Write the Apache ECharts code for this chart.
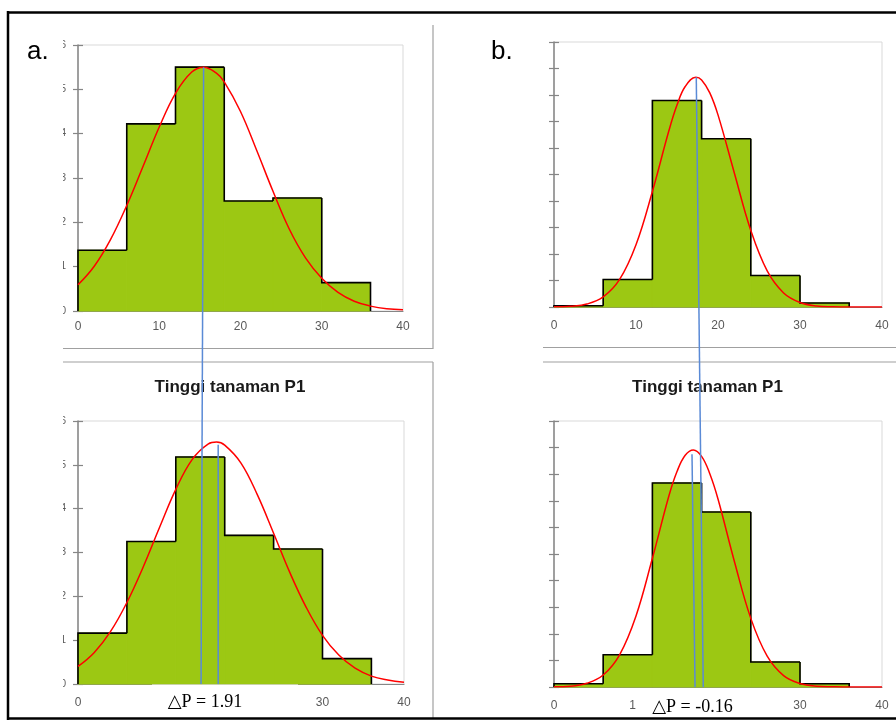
<!DOCTYPE html>
<html>
<head>
<meta charset="utf-8">
<script src="https://cdn.jsdelivr.net/npm/echarts@6/dist/echarts.min.js"></script>
<style>html,body{margin:0;padding:0;background:#fff}#c{width:896px;height:720px}</style>
</head>
<body>
<div id="c"></div>
<script>
// ---- data ----
const binEdges = [0, 6, 12, 18, 24, 30, 36];
const aTopCounts = [1.37, 4.22, 5.50, 2.48, 2.55, 0.64];
const aBotCounts = [1.16, 3.25, 5.18, 3.39, 3.08, 0.58];
const bTopCounts = [0.05, 1.04, 7.79, 6.35, 1.19, 0.15];
const bBotCounts = [0.12, 1.21, 7.67, 6.58, 0.94, 0.12];

const aTopCurveX = [0, 2, 4, 6, 8, 10, 12, 14, 15.5, 17, 18, 20, 22, 24, 26, 28, 30, 32, 34, 36, 38, 40];
const aTopCurveY = [0.59, 1.01, 1.61, 2.38, 3.26, 4.15, 4.91, 5.39, 5.50, 5.37, 5.17, 4.50, 3.62, 2.70, 1.85, 1.20, 0.74, 0.42, 0.22, 0.11, 0.05, 0.03];
const aBotCurveX = [0, 2, 4, 6, 8, 10, 12, 14, 16, 17, 18, 20, 22, 24, 26, 28, 30, 32, 34, 36, 38, 40];
const aBotCurveY = [0.40, 0.72, 1.20, 1.86, 2.67, 3.57, 4.44, 5.12, 5.48, 5.52, 5.45, 5.04, 4.32, 3.44, 2.54, 1.75, 1.11, 0.66, 0.36, 0.18, 0.09, 0.04];
const bTopCurveX = [0, 2, 4, 6, 8, 10, 12, 14, 15, 16, 17.3, 18, 19, 20, 22, 24, 26, 28, 30, 32, 34, 36, 38, 40];
const bTopCurveY = [0.01, 0.03, 0.11, 0.38, 1.04, 2.35, 4.36, 6.64, 7.62, 8.32, 8.67, 8.57, 8.08, 7.25, 5.05, 2.89, 1.36, 0.53, 0.17, 0.04, 0.01, 0, 0, 0];
const bBotCurveX = [0, 2, 4, 6, 8, 10, 12, 14, 15, 16, 17, 18, 19, 20, 22, 24, 26, 28, 30, 32, 34, 36, 38, 40];
const bBotCurveY = [0.01, 0.03, 0.14, 0.45, 1.21, 2.67, 4.84, 7.17, 8.10, 8.71, 8.91, 8.67, 8.02, 7.07, 4.72, 2.58, 1.16, 0.43, 0.13, 0.03, 0.01, 0, 0, 0];

// mean lines: [x, y] points
const aLongFrom = [15.46, 5.5];   // top-a grid
const aLongTo = [15.1, 0];        // bottom-a grid
const aShortFrom = [17.2, 5.46];  // bottom-a grid
const aShortTo = [17.2, 0];
const bLongFrom = [17.35, 8.67];  // top-b grid
const bLongTo = [18.2, 0];        // bottom-b grid
const bShortFrom = [16.83, 8.75]; // bottom-b grid
const bShortTo = [17.2, 0];

const xTicks = {min: 0, max: 40, interval: 10};
const yA = {min: 0, max: 6, interval: 1};
const yB = {min: 0, max: 10, interval: 1};

const titleText = 'Tinggi tanaman P1';
const deltaA = '\u25B3P = 1.91';
const deltaB = '\u25B3P = -0.16';

// ---- styles ----
const GREEN = '#9cc813';
const RED = '#ff0000';
const BLUE = '#5a8ad6';
const AXIS = '#868686';
const FRAME = '#a0a0a0';

const chart = echarts.init(document.getElementById('c'), null, {renderer: 'canvas'});

const gridsPos = [
  {left: 78, top: 45, width: 325, height: 266},
  {left: 78, top: 421, width: 326, height: 263},
  {left: 554, top: 42, width: 328, height: 265},
  {left: 554, top: 421, width: 328, height: 266}
];
const grids = gridsPos.map(g => Object.assign({show: true, borderColor: '#d9d9d9', borderWidth: 1, backgroundColor: 'transparent', containLabel: false, outerBoundsMode: 'none'}, g));

const xMargins = [10, 13, 13, 13];
const xAxes = gridsPos.map((g, i) => ({
  type: 'value', gridIndex: i, min: xTicks.min, max: xTicks.max, interval: xTicks.interval,
  axisLine: {show: true, lineStyle: {color: AXIS, width: 1.2}},
  axisTick: {show: false}, splitLine: {show: false},
  axisLabel: {color: '#595959', fontSize: 12, margin: xMargins[i], fontFamily: 'Liberation Sans, Arial, sans-serif'}
}));

const yAxes = [];
[yA, yA, yB, yB].forEach((s, i) => {
  const isA = i < 2;
  yAxes.push({
    type: 'value', gridIndex: i, min: s.min, max: s.max, interval: s.interval, position: 'left',
    axisLine: {show: true, lineStyle: {color: AXIS, width: 1.5}},
    axisTick: {show: true, inside: false, length: 5, lineStyle: {color: AXIS, width: 1.2}},
    splitLine: {show: false},
    axisLabel: {show: isA, color: '#595959', fontSize: 10, margin: 12, fontFamily: 'Liberation Sans, Arial, sans-serif'}
  });
  yAxes.push({
    type: 'value', gridIndex: i, min: s.min, max: s.max, interval: s.interval, position: 'left', offset: 0,
    axisLine: {show: false},
    axisTick: {show: true, inside: true, length: 5, lineStyle: {color: AXIS, width: 1.2}},
    splitLine: {show: false}, axisLabel: {show: false}
  });
});

function histSeries(counts, gi) {
  const data = counts.map((h, i) => [binEdges[i], binEdges[i + 1], h]);
  return {
    type: 'custom', xAxisIndex: gi, yAxisIndex: 2 * gi, data: data, z: 2,
    encode: {x: [0, 1], y: 2},
    renderItem: function (params, api) {
      const i = params.dataIndex;
      const x0 = api.value(0), x1 = api.value(1), h = api.value(2);
      const prev = i > 0 ? counts[i - 1] : 0;
      const last = i === counts.length - 1;
      const p0 = api.coord([x0, 0]);
      const p1 = api.coord([x1, h]);
      const pts = [api.coord([x0, prev]), api.coord([x0, h]), api.coord([x1, h])];
      if (last) pts.push(api.coord([x1, 0]));
      return {
        type: 'group',
        children: [
          {type: 'rect', shape: {x: p0[0], y: p1[1], width: p1[0] - p0[0], height: p0[1] - p1[1]}, style: {fill: GREEN, stroke: GREEN, lineWidth: 1}, z2: 1},
          {type: 'polyline', shape: {points: pts}, style: {stroke: '#000', lineWidth: 1.6, fill: null}, z2: 5}
        ]
      };
    }
  };
}
function curveSeries(xs, ys, gi) {
  return {
    type: 'line', xAxisIndex: gi, yAxisIndex: 2 * gi, z: 3,
    data: xs.map((x, i) => [x, ys[i]]), smooth: 0.4, symbol: 'none',
    lineStyle: {color: RED, width: 1.5}
  };
}

const series = [
  histSeries(aTopCounts, 0), curveSeries(aTopCurveX, aTopCurveY, 0),
  histSeries(aBotCounts, 1), curveSeries(aBotCurveX, aBotCurveY, 1),
  histSeries(bTopCounts, 2), curveSeries(bTopCurveX, bTopCurveY, 2),
  histSeries(bBotCounts, 3), curveSeries(bBotCurveX, bBotCurveY, 3)
];

function hline(id, x1, x2, y, color, w) {
  return {type: 'line', id: id, z: 5, shape: {x1: x1, y1: y, x2: x2, y2: y}, style: {stroke: color, lineWidth: w}};
}
function vline(id, x, y1, y2, color, w) {
  return {type: 'line', id: id, z: 5, shape: {x1: x, y1: y1, x2: x, y2: y2}, style: {stroke: color, lineWidth: w}};
}
function txt(id, text, x, y, font, align, color) {
  return {type: 'text', id: id, z: 12, style: {text: text, x: x, y: y, font: font, textAlign: align, textVerticalAlign: 'middle', fill: color || '#000'}};
}

const staticGraphics = [
  // label crop covers (left part of panel-a y labels is cut off)
  {type: 'rect', id: 'coverA1', z: 10, shape: {x: 10, y: 28, width: 53, height: 300}, style: {fill: '#fff'}},
  {type: 'rect', id: 'coverA2', z: 10, shape: {x: 10, y: 400, width: 53, height: 300}, style: {fill: '#fff'}},
  // white boxes behind delta labels
  {type: 'rect', id: 'boxA', z: 10, shape: {x: 152, y: 684.5, width: 146, height: 32}, style: {fill: '#fff'}},
  {type: 'rect', id: 'boxB', z: 10, shape: {x: 636, y: 688.5, width: 134, height: 28}, style: {fill: '#fff'}},
  // gray chart frames
  vline('fa1', 433, 25, 349, FRAME, 1.2),
  hline('fa2', 63, 433, 348.5, FRAME, 1.2),
  hline('fa3', 63, 433, 362, FRAME, 1.2),
  vline('fa4', 433, 362, 718, FRAME, 1.2),
  hline('fb1', 543, 896, 347.5, FRAME, 1.2),
  hline('fb2', 543, 896, 362, FRAME, 1.2),
  // outer black frame
  hline('ob1', 7, 896, 12.5, '#000', 2.5),
  vline('ob2', 8, 11, 720, '#000', 2.5),
  hline('ob3', 7, 896, 718.5, '#000', 2.5),
  // texts
  txt('ta', 'a.', 27, 51.5, '26px "Liberation Sans", Arial, sans-serif', 'left'),
  txt('tb', 'b.', 491, 51.5, '26px "Liberation Sans", Arial, sans-serif', 'left'),
  txt('t1', titleText, 230, 387, 'bold 17px "Liberation Sans", Arial, sans-serif', 'center', '#1a1a1a'),
  txt('t2', titleText, 707.5, 387, 'bold 17px "Liberation Sans", Arial, sans-serif', 'center', '#1a1a1a'),
  txt('da', deltaA, 205, 702.5, '18px "Liberation Serif", "DejaVu Serif", serif', 'center'),
  txt('db', deltaB, 692.5, 707, '18px "Liberation Serif", "DejaVu Serif", serif', 'center')
];

chart.setOption({
  animation: false,
  backgroundColor: '#fff',
  grid: grids, xAxis: xAxes, yAxis: yAxes, series: series,
  graphic: staticGraphics
});

// mean lines through the library's own scales
function px(seriesIndex, pt) { return chart.convertToPixel({seriesIndex: seriesIndex}, pt); }
function blueLine(id, p, q) {
  return {type: 'line', id: id, z: 20, shape: {x1: p[0], y1: p[1], x2: q[0], y2: q[1]}, style: {stroke: BLUE, lineWidth: 1.5}};
}
const meanGraphics = [
  blueLine('m1', px(0, aLongFrom), px(2, aLongTo)),
  blueLine('m2', px(2, aShortFrom), px(2, aShortTo)),
  blueLine('m3', px(4, bLongFrom), px(6, bLongTo)),
  blueLine('m4', px(6, bShortFrom), px(6, bShortTo))
];
chart.setOption({graphic: staticGraphics.concat(meanGraphics)});
</script>
</body>
</html>
